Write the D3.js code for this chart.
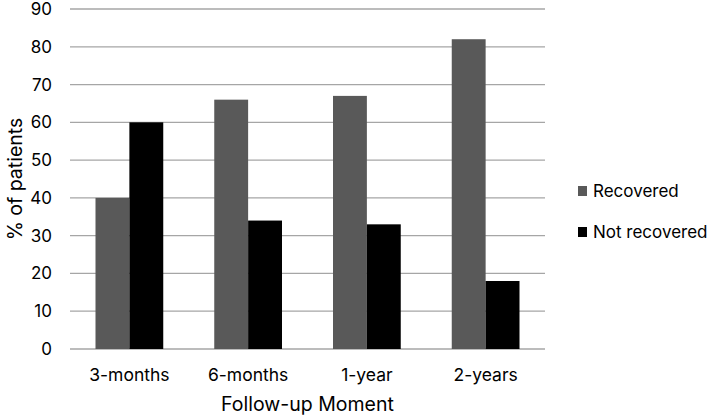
<!DOCTYPE html>
<html>
<head>
<meta charset="utf-8">
<script src="https://cdn.jsdelivr.net/npm/d3@7"></script>
<style>
  body { margin: 0; background: #fff; }
  text { font-family: Inter, "Liberation Sans", sans-serif; fill: #000; }
</style>
</head>
<body>
<svg id="canvas" width="712" height="416"></svg>
<script>
let categories = ["3-months", "6-months", "1-year", "2-years"]
let seriesNames = ["Recovered", "Not recovered"]
let recovered = [40, 66, 67, 82]
let notRecovered = [60, 34, 33, 18]
let yTicks = [0, 10, 20, 30, 40, 50, 60, 70, 80, 90]

let colors = ["#595959", "#000000"]

let plotLeft = 70, plotRight = 545, plotTop = 9, plotBottom = 349

let canvas = d3.select("#canvas")

let xScale = d3.scaleBand()
               .domain(categories)
               .range([plotLeft, plotRight])

let yScale = d3.scaleLinear()
               .domain([0, 90])
               .range([plotBottom, plotTop])

// bars sit together in the middle of each band
let gap = 51
let xInner = d3.scaleBand()
               .domain(seriesNames)
               .range([gap / 2, xScale.bandwidth() - gap / 2])

// gridlines
canvas.append("g")
      .selectAll("line")
      .data(yTicks)
      .enter().append("line")
      .attr("x1", plotLeft)
      .attr("x2", plotRight)
      .attr("y1", d => yScale(d))
      .attr("y2", d => yScale(d))
      .attr("stroke", "#a6a6a6")
      .attr("stroke-width", 1.3)

// y tick labels
canvas.append("g")
      .selectAll("text")
      .data(yTicks)
      .enter().append("text")
      .attr("x", 52)
      .attr("y", d => yScale(d))
      .attr("dy", "0.35em")
      .attr("text-anchor", "end")
      .attr("font-size", "17px")
      .text(d => d)

let rows = categories.map((c, i) => ({ cat: c, values: [recovered[i], notRecovered[i]] }))

let groups = canvas.append("g")
      .selectAll("g")
      .data(rows)
      .enter().append("g")
      .attr("transform", d => "translate(" + xScale(d.cat) + ",0)")

groups.selectAll("rect")
      .data(d => d.values.map((v, j) => ({ name: seriesNames[j], value: v, color: colors[j] })))
      .enter().append("rect")
      .attr("x", d => xInner(d.name))
      .attr("width", xInner.bandwidth())
      .attr("y", d => yScale(d.value))
      .attr("height", d => yScale(0) - yScale(d.value))
      .attr("fill", d => d.color)

// x tick labels
canvas.append("g")
      .selectAll("text")
      .data(categories)
      .enter().append("text")
      .attr("x", d => xScale(d) + xScale.bandwidth() / 2)
      .attr("y", 381)
      .attr("text-anchor", "middle")
      .attr("font-size", "17.5px")
      .text(d => d)

// axis titles
canvas.append("text")
      .attr("x", (plotLeft + plotRight) / 2)
      .attr("y", 411)
      .attr("text-anchor", "middle")
      .attr("font-size", "19.5px")
      .text("Follow-up Moment")

canvas.append("text")
      .attr("transform", "translate(22," + ((plotTop + plotBottom) / 2) + ") rotate(-90)")
      .attr("text-anchor", "middle")
      .attr("font-size", "19.5px")
      .text("% of patients")

// legend
let legend = canvas.append("g")
      .selectAll("g")
      .data(seriesNames)
      .enter().append("g")
      .attr("transform", (d, i) => "translate(578," + (186 + i * 41) + ")")

legend.append("rect")
      .attr("width", 9)
      .attr("height", 10)
      .attr("fill", (d, i) => colors[i])

legend.append("text")
      .attr("x", 15)
      .attr("y", 11)
      .attr("font-size", "17px")
      .text(d => d)
</script>
</body>
</html>
